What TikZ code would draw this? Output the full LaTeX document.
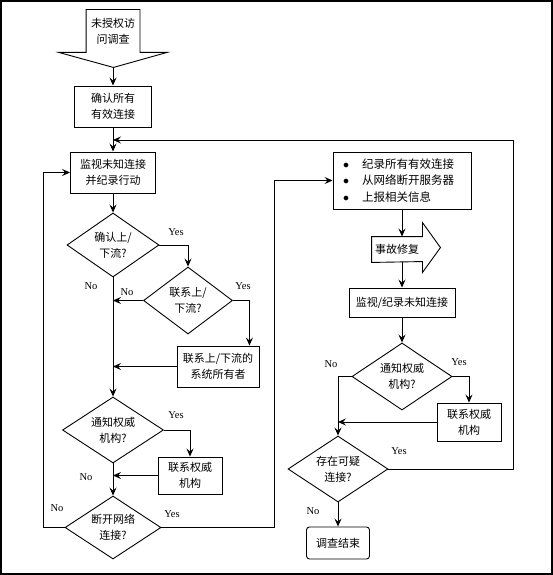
\documentclass[tikz,border=0pt]{standalone}
\usepackage{fontspec}
\setmainfont{Noto Sans CJK SC}
\newfontfamily\ynfont{Liberation Serif}
\usetikzlibrary{arrows.meta,shapes.geometric}

\begin{document}
\begin{tikzpicture}[x=1pt, y=-1pt, line width=0.9pt,
	box/.style={draw, align=center, inner sep=0pt, font=\fontsize{11}{16}\selectfont},
	query/.style={draw, diamond, aspect=1.5, align=center, inner sep=0pt, font=\fontsize{11}{16}\selectfont},
	lab/.style={font=\ynfont\fontsize{10.5}{12}\selectfont},
	flow/.style={-{Stealth[length=8pt, width=7pt, inset=3pt]}}]
	\useasboundingbox (0,0) rectangle (553,575);
	\draw[line width=2pt] (1,1) rectangle (552,574);
	% left column
	\node[minimum width=53, minimum height=42, align=center, inner sep=0pt, font=\fontsize{11}{16}\selectfont] (start) at (113,31) {未授权访\\问调查};
	\draw (start.south west) -- (start.north west) -- (start.north east) -- (start.south east) -- ++(27,0) -- ++(-53.5,15) -- ++(-54.5,-15) -- cycle;
	\coordinate (start tip) at (113,67);
	\node[box, minimum width=77, minimum height=41] (confirm) at (113,106.5) {确认所有\\有效连接};
	\coordinate (merge) at (113,140);
	\node[box, minimum width=85, minimum height=41] (monitor) at (113,172.5) {监视未知连接\\并纪录行动};
	\node[query, minimum width=92, minimum height=64] (q1) at (113,245) {确认上/\\下流?};
	\node[query, minimum width=89, minimum height=67] (q2) at (188,300.5) {联系上/\\下流?};
	\node[box, minimum width=82, minimum height=41] (owner) at (218,366.5) {联系上/下流的\\系统所有者};
	\node[query, minimum width=101, minimum height=66] (q3) at (113,430) {通知权威\\机构?};
	\node[box, minimum width=64, minimum height=37] (auth) at (190,475.5) {联系权威\\机构};
	\node[query, minimum width=96, minimum height=63] (q4) at (113,527.5) {断开网络\\连接?};
	% right column
	\node[draw, align=left, text width=118, inner xsep=10pt, inner ysep=0pt, minimum height=57, font=\fontsize{11.5}{16.5}\selectfont] (record) at (402,180.5)
		{$\bullet$\hspace{13pt}纪录所有有效连接\\$\bullet$\hspace{13pt}从网络断开服务器\\$\bullet$\hspace{13pt}上报相关信息};
	\node[minimum width=50, minimum height=25, inner sep=0pt, font=\fontsize{11}{16}\selectfont] (repair) at (397,249.5) {事故修复};
	\draw (repair.north west) -- (repair.north east) -- ++(0,-14) -- ++(18,25) -- ++(-18,25) -- ++(0,-11) -- (repair.south west) -- cycle;
	\node[box, minimum width=106, minimum height=29] (watch) at (402,302.5) {监视/纪录未知连接};
	\node[query, minimum width=100, minimum height=67] (q5) at (402,376.5) {通知权威\\机构?};
	\node[box, minimum width=64, minimum height=38] (auth2) at (469,422) {联系权威\\机构};
	\node[query, minimum width=100, minimum height=66] (q6) at (338,469) {存在可疑\\连接?};
	\node[box, rounded corners=3pt, minimum width=63, minimum height=32] (stop) at (338,543) {调查结束};
	% connectors
	\draw[flow] (start tip) -- (confirm);
	\draw[flow] (confirm) -- (monitor);
	\draw[flow] (monitor) -- (q1);
	\draw[flow] (q1.east) -| (q2.north);
	\draw[flow] (q2.west) -- (q2.west -| q1.south);
	\draw[flow] (q2.east) -| ([xshift=-10pt]owner.north east);
	\draw[flow] (owner.west) -- (owner.west -| q1.south);
	\draw[flow] (q1.south) -- (q3.north);
	\draw[flow] (q3.east) -| (auth.north);
	\draw[flow] (auth.west) -- (auth.west -| q3.south);
	\draw[flow] (q3.south) -- (q4.north);
	\draw[flow] (q4.west) -- ++(-21,0) |- (monitor.west);
	\draw[flow] (q4.east) -- ++(113,0) |- (record.west);
	\draw[flow] (record.south) -- (record.south |- repair.north);
	\draw[flow] (record.south |- repair.south) -- (watch.north);
	\draw[flow] (watch) -- (q5);
	\draw[flow] (q5.east) -| (auth2.north);
	\draw[flow] (auth2.west) -- (auth2.west -| q6.north);
	\draw[flow] (q5.west) -| (q6.north);
	\draw[flow] (q6.east) -- ++(125,0) |- (merge);
	\draw[flow] (q6) -- (stop);
	% labels
	\foreach \n/\p/\t in {q1 yes/{176,232}/Yes, q1 no/{91,286}/No, q2 no/{127,292}/No, q2 yes/{243,286}/Yes,
		q3 yes/{176,415}/Yes, q3 no/{86,477}/No, q4 no/{57,508}/No, q4 yes/{172,514}/Yes,
		q5 no/{331,364}/No, q5 yes/{459,362}/Yes, q6 yes/{399,451}/Yes, q6 no/{313,511}/No}
		\node[lab] (\n) at (\p) {\t};
\end{tikzpicture}
\end{document}
